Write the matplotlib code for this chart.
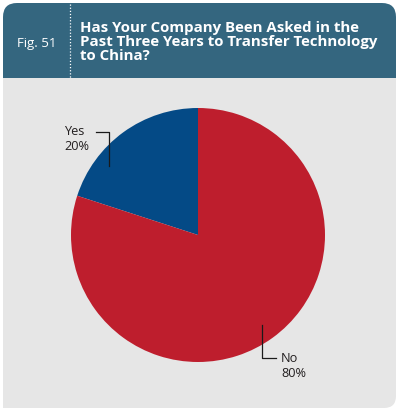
import matplotlib
matplotlib.use('Agg')
import matplotlib.pyplot as plt
from matplotlib.patches import FancyBboxPatch, Rectangle

# data
labels = ['Yes', 'No']
values = [20, 80]
colors = ['#044a86', '#be1e2d']
fig_label = 'Fig. 51'
title = 'Has Your Company Been Asked in the\nPast Three Years to Transfer Technology\nto China?'

W, H = 399, 412
HEAD = '#34667f'
BODY = '#e6e6e6'

fig = plt.figure(figsize=(W / 100, H / 100), dpi=100)
ax = fig.add_axes([0, 0, 1, 1])

def py(y):
    # pixel row (from top) -> data y
    return H - y

X0, X1 = 3, 396
# header band, rounded top corners
ax.add_patch(FancyBboxPatch((X0 + 14, py(100)), X1 - X0 - 28, 97 - 14,
                            boxstyle='round,pad=14', fc=HEAD, ec='none'))
# body, rounded bottom-right corner only
ax.add_patch(FancyBboxPatch((X0 + 12, py(408) + 12), X1 - X0 - 24, 330 - 24,
                            boxstyle='round,pad=12', fc=BODY, ec='none'))
ax.add_patch(Rectangle((X0, py(78)), X1 - X0, -40, fc=BODY, ec='none'))
ax.add_patch(Rectangle((X0, py(408)), 40, 330, fc=BODY, ec='none'))
ax.plot([70, 70], [py(4), py(78)], color='white', lw=0.9, ls=(0, (1, 1.5)))

ax.text(37, py(43), fig_label, color='white', fontsize=9.5, family='Open Sans',
        ha='center', va='center')
ax.text(80, py(42), title, color='white', fontsize=10.8, family='Open Sans',
        fontweight='bold', ha='left', va='center', linespacing=0.98)

cx, cy, r = 198, py(235), 127
wedges, _ = ax.pie(values, colors=colors, startangle=90, counterclock=True,
                   center=(cx, cy), radius=r, frame=True,
                   wedgeprops=dict(linewidth=0))

ax.set_xlim(0, W)
ax.set_ylim(0, H)
ax.set_aspect('equal', adjustable='box')
ax.axis('off')

# leader lines and labels
lc = '#1a1a1a'
ax.plot([96, 109, 109], [py(132), py(132), py(166)], color=lc, lw=0.9)
ax.text(64, py(139), 'Yes\n20%', fontsize=9.2, family='Open Sans', color='#231f20',
        ha='left', va='center', linespacing=1.2)
ax.plot([262, 262, 276], [py(325), py(358), py(358)], color=lc, lw=0.9)
ax.text(281, py(366), 'No\n80%', fontsize=9.2, family='Open Sans', color='#231f20',
        ha='left', va='center', linespacing=1.2)

fig.savefig('out.png', dpi=100, facecolor='white')
